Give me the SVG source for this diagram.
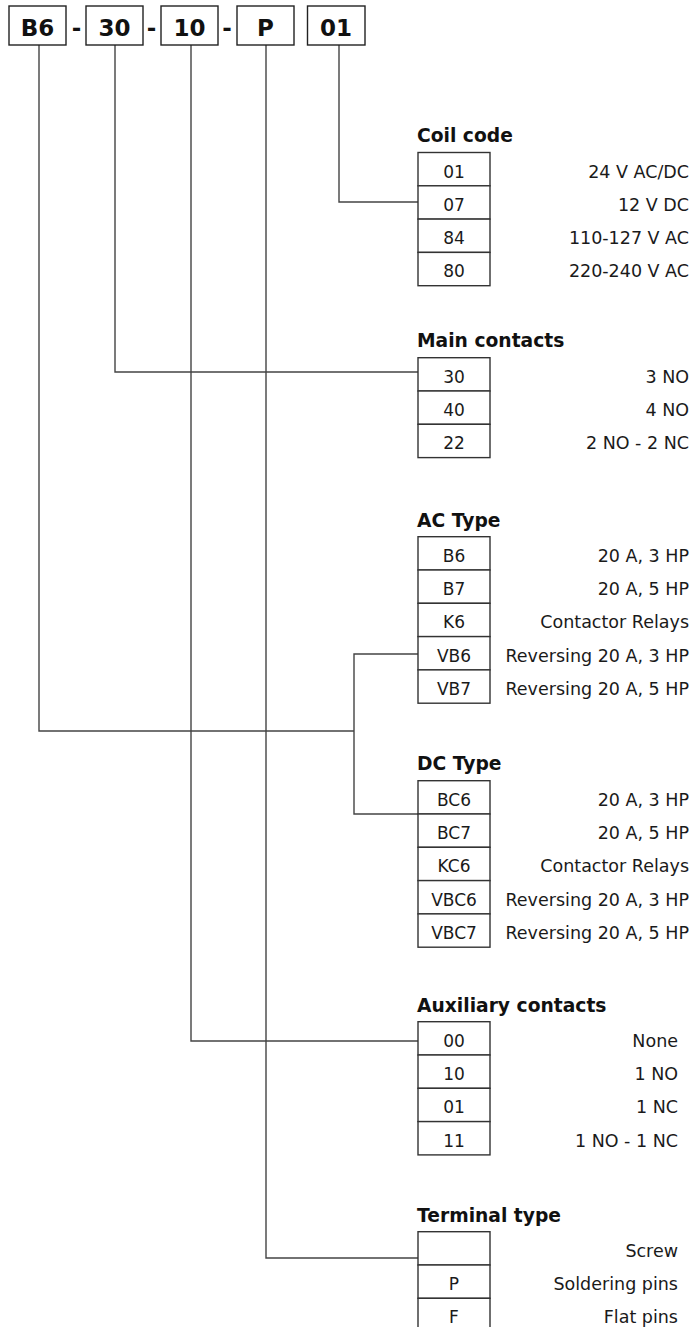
<svg xmlns="http://www.w3.org/2000/svg" width="695" height="1327" viewBox="0 0 695 1327">
<style>
  .hbox{fill:#fff;stroke:#222;stroke-width:1.4}
  .htxt{font-family:"DejaVu Sans",sans-serif;font-weight:bold;font-size:23px;fill:#111;text-anchor:middle}
  .dash{font-family:"DejaVu Sans",sans-serif;font-weight:bold;font-size:23px;fill:#111;text-anchor:middle}
  .cell{fill:#fff;stroke:#333;stroke-width:1.4}
  .code{font-family:"DejaVu Sans",sans-serif;font-size:17px;fill:#1a1a1a;text-anchor:middle}
  .desc{font-family:"DejaVu Sans",sans-serif;font-size:17.5px;fill:#1a1a1a;text-anchor:end}
  .title{font-family:"DejaVu Sans",sans-serif;font-weight:bold;font-size:18.7px;fill:#111}
  .conn{fill:none;stroke:#444;stroke-width:1.4}
</style>
<rect width="695" height="1327" fill="#fff"/>

<g id="connectors">
  <path class="conn" d="M339 45 V202 H418"/>
  <path class="conn" d="M115 45 V372 H418"/>
  <path class="conn" d="M39 45 V731 H354"/>
  <path class="conn" d="M418 654 H354 V814 H418"/>
  <path class="conn" d="M191 45 V1041 H418"/>
  <path class="conn" d="M266 45 V1258 H418"/>
</g>

<g id="header">
  <g id="hdr-b6"><rect class="hbox" x="9" y="6" width="57" height="39"/><text class="htxt" x="37.5" y="36">B6</text></g>
  <text class="dash" x="76.5" y="36">-</text>
  <g id="hdr-30"><rect class="hbox" x="86" y="6" width="57" height="39"/><text class="htxt" x="114.5" y="36">30</text></g>
  <text class="dash" x="151.5" y="36">-</text>
  <g id="hdr-10"><rect class="hbox" x="161" y="6" width="57" height="39"/><text class="htxt" x="189.5" y="36">10</text></g>
  <text class="dash" x="227" y="36">-</text>
  <g id="hdr-p"><rect class="hbox" x="237" y="6" width="57" height="39"/><text class="htxt" x="265.5" y="36">P</text></g>
  <g id="hdr-01"><rect class="hbox" x="307.5" y="6" width="57.5" height="39"/><text class="htxt" x="336" y="36">01</text></g>
</g>

<g id="coil-code">
  <text class="title" x="417" y="142">Coil code</text>
  <rect class="cell" x="418" y="152.5" width="72" height="33.3"/><text class="code" x="454" y="177.5">01</text><text class="desc" x="689" y="177.5">24 V AC/DC</text>
  <rect class="cell" x="418" y="185.8" width="72" height="33.3"/><text class="code" x="454" y="210.8">07</text><text class="desc" x="689" y="210.8">12 V DC</text>
  <rect class="cell" x="418" y="219.1" width="72" height="33.3"/><text class="code" x="454" y="244.1">84</text><text class="desc" x="689" y="244.1">110-127 V AC</text>
  <rect class="cell" x="418" y="252.4" width="72" height="33.3"/><text class="code" x="454" y="277.4">80</text><text class="desc" x="689" y="277.4">220-240 V AC</text>
</g>

<g id="main-contacts">
  <text class="title" x="417" y="347">Main contacts</text>
  <rect class="cell" x="418" y="357.7" width="72" height="33.3"/><text class="code" x="454" y="382.7">30</text><text class="desc" x="689" y="382.7">3 NO</text>
  <rect class="cell" x="418" y="391" width="72" height="33.3"/><text class="code" x="454" y="416">40</text><text class="desc" x="689" y="416">4 NO</text>
  <rect class="cell" x="418" y="424.3" width="72" height="33.3"/><text class="code" x="454" y="449.3">22</text><text class="desc" x="689" y="449.3">2 NO - 2 NC</text>
</g>

<g id="ac-type">
  <text class="title" x="417" y="527">AC Type</text>
  <rect class="cell" x="418" y="536.7" width="72" height="33.3"/><text class="code" x="454" y="561.7">B6</text><text class="desc" x="689" y="561.7">20 A, 3 HP</text>
  <rect class="cell" x="418" y="570" width="72" height="33.3"/><text class="code" x="454" y="595">B7</text><text class="desc" x="689" y="595">20 A, 5 HP</text>
  <rect class="cell" x="418" y="603.3" width="72" height="33.3"/><text class="code" x="454" y="628.3">K6</text><text class="desc" x="689" y="628.3">Contactor Relays</text>
  <rect class="cell" x="418" y="636.6" width="72" height="33.3"/><text class="code" x="454" y="661.6">VB6</text><text class="desc" x="689" y="661.6">Reversing 20 A, 3 HP</text>
  <rect class="cell" x="418" y="669.9" width="72" height="33.3"/><text class="code" x="454" y="694.9">VB7</text><text class="desc" x="689" y="694.9">Reversing 20 A, 5 HP</text>
</g>

<g id="dc-type">
  <text class="title" x="417" y="770">DC Type</text>
  <rect class="cell" x="418" y="780.7" width="72" height="33.3"/><text class="code" x="454" y="805.7">BC6</text><text class="desc" x="689" y="805.7">20 A, 3 HP</text>
  <rect class="cell" x="418" y="814" width="72" height="33.3"/><text class="code" x="454" y="839">BC7</text><text class="desc" x="689" y="839">20 A, 5 HP</text>
  <rect class="cell" x="418" y="847.3" width="72" height="33.3"/><text class="code" x="454" y="872.3">KC6</text><text class="desc" x="689" y="872.3">Contactor Relays</text>
  <rect class="cell" x="418" y="880.6" width="72" height="33.3"/><text class="code" x="454" y="905.6">VBC6</text><text class="desc" x="689" y="905.6">Reversing 20 A, 3 HP</text>
  <rect class="cell" x="418" y="913.9" width="72" height="33.3"/><text class="code" x="454" y="938.9">VBC7</text><text class="desc" x="689" y="938.9">Reversing 20 A, 5 HP</text>
</g>

<g id="auxiliary-contacts">
  <text class="title" x="417" y="1011.5">Auxiliary contacts</text>
  <rect class="cell" x="418" y="1021.7" width="72" height="33.3"/><text class="code" x="454" y="1046.7">00</text><text class="desc" x="678" y="1046.7">None</text>
  <rect class="cell" x="418" y="1055" width="72" height="33.3"/><text class="code" x="454" y="1080">10</text><text class="desc" x="678" y="1080">1 NO</text>
  <rect class="cell" x="418" y="1088.3" width="72" height="33.3"/><text class="code" x="454" y="1113.3">01</text><text class="desc" x="678" y="1113.3">1 NC</text>
  <rect class="cell" x="418" y="1121.6" width="72" height="33.3"/><text class="code" x="454" y="1146.6">11</text><text class="desc" x="678" y="1146.6">1 NO - 1 NC</text>
</g>

<g id="terminal-type">
  <text class="title" x="417" y="1221.5">Terminal type</text>
  <rect class="cell" x="418" y="1231.7" width="72" height="33.3"/><text class="desc" x="678" y="1256.7">Screw</text>
  <rect class="cell" x="418" y="1265" width="72" height="33.3"/><text class="code" x="454" y="1290">P</text><text class="desc" x="678" y="1290">Soldering pins</text>
  <rect class="cell" x="418" y="1298.3" width="72" height="33.3"/><text class="code" x="454" y="1323.3">F</text><text class="desc" x="678" y="1323.3">Flat pins</text>
</g>
</svg>
